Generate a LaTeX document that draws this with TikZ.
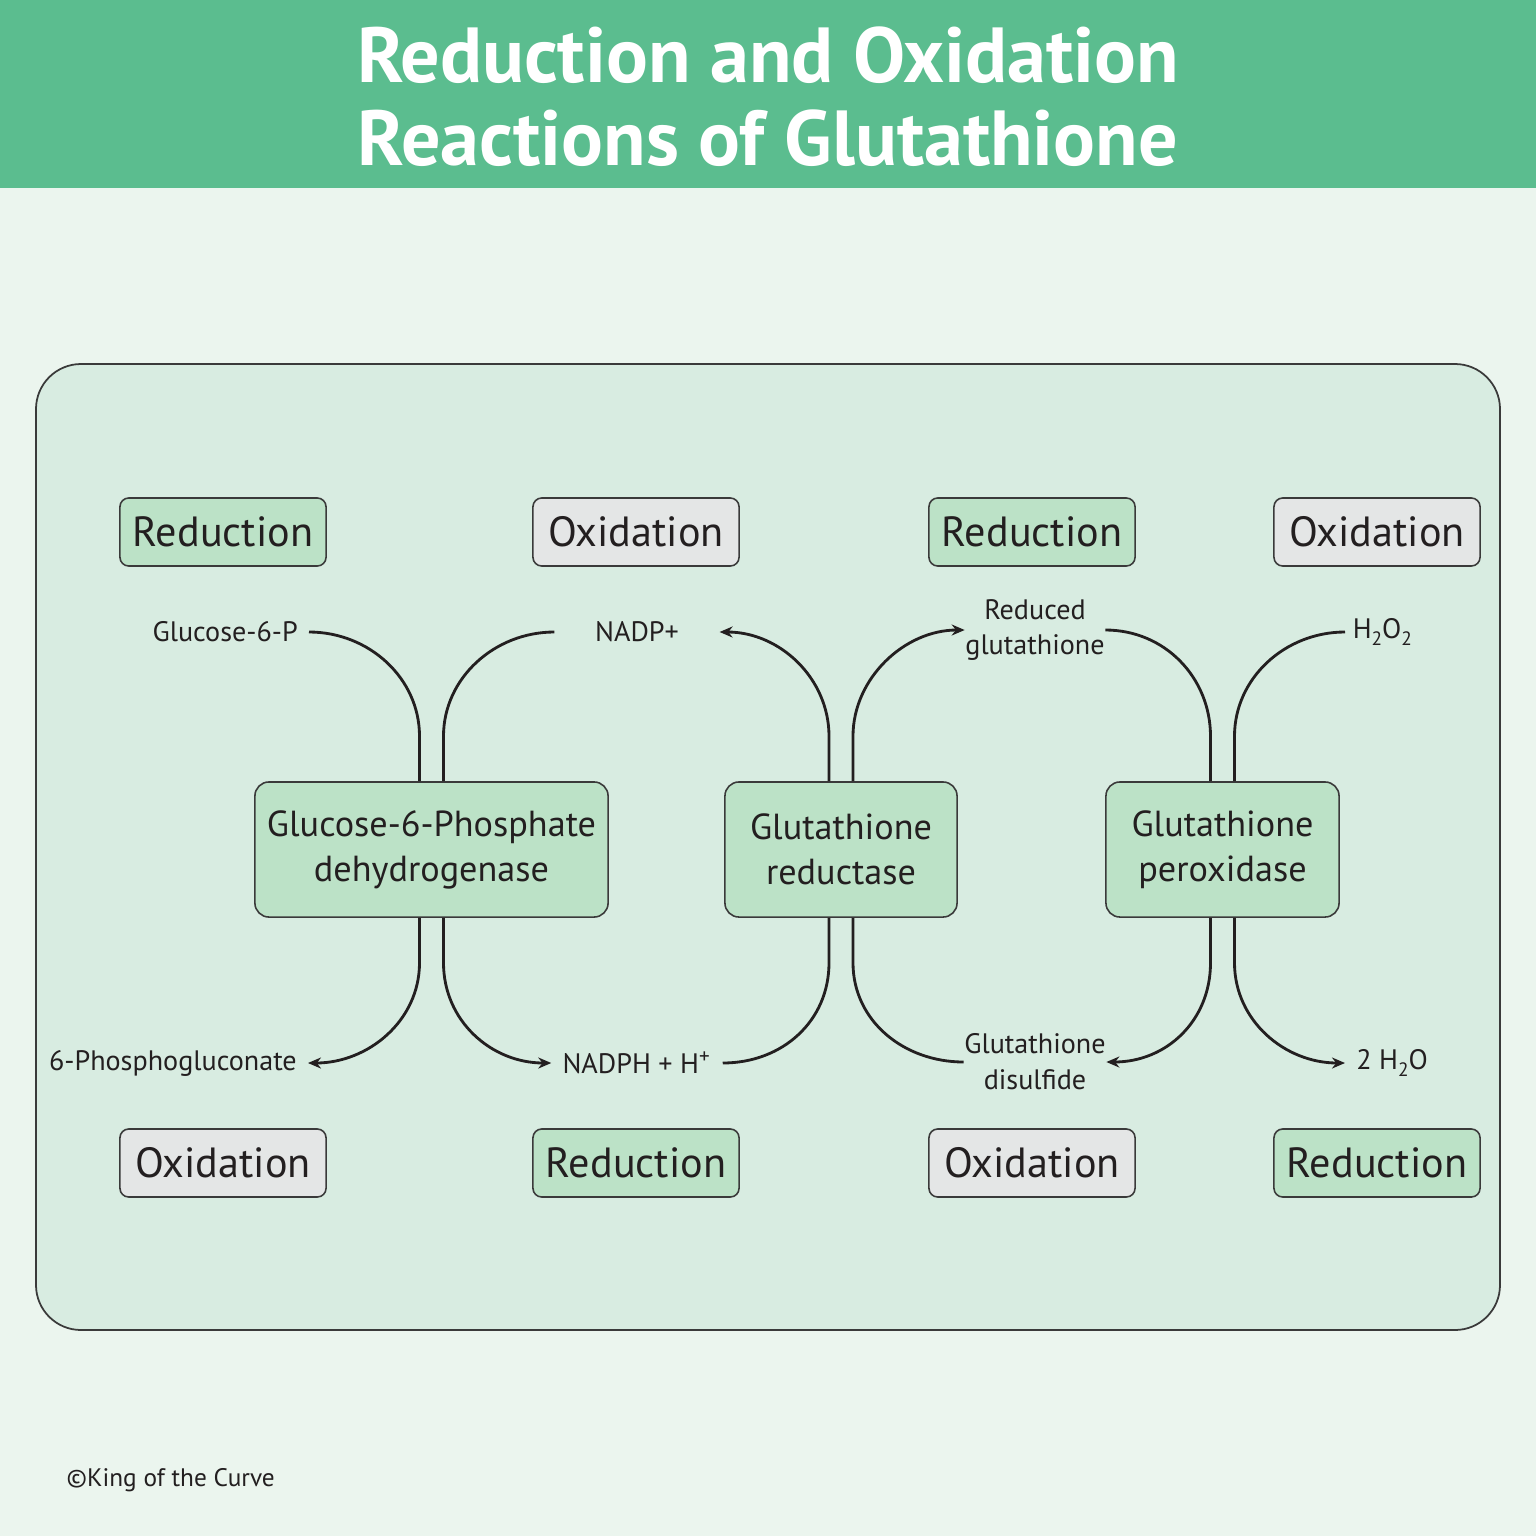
\documentclass[tikz,border=0pt]{standalone}
\usepackage{fontspec}
\setmainfont{PT Sans}
\usetikzlibrary{arrows.meta, positioning, calc}
\definecolor{cband}{HTML}{5BBD8F}
\definecolor{cpage}{HTML}{EBF5EE}
\definecolor{cpanel}{HTML}{D8ECE1}
\definecolor{cgreen}{HTML}{BCE2C7}
\definecolor{cgrey}{HTML}{E4E6E6}
\definecolor{cink}{HTML}{231F20}
\definecolor{cedge}{HTML}{3A3A3A}
\tikzset{
  every picture/.style={x=0.01cm, y=-0.01cm, text=cink},
  title/.style={text=white, align=center, font=\fontsize{22.2}{23.6}\selectfont\bfseries},
  panel/.style={draw=cedge, fill=cpanel, rounded corners=0.45cm, line width=0.5pt},
  tag/.style={draw=cedge, fill=#1, rounded corners=2.5pt, line width=0.45pt, minimum width=2.06cm, minimum height=0.68cm, inner sep=0pt, font=\fontsize{12}{14}\selectfont},
  tag/.default=cgreen,
  enzyme/.style={draw=cedge, fill=cgreen, rounded corners=4pt, line width=0.45pt, minimum height=1.35cm, align=center, font=\fontsize{10.3}{12.8}\selectfont},
  lbl/.style={align=center, inner xsep=3pt, inner ysep=0pt, font=\fontsize{8}{10.2}\selectfont},
  link/.style={draw=cink, line width=0.8pt},
  arrow/.style={link, -{Stealth[length=1.3mm, width=1.1mm]}},
}
\newcommand{\lowtwo}{\raisebox{-0.45ex}{\fontsize{5.5}{6}\selectfont 2}}

\begin{document}
\begin{tikzpicture}
  \useasboundingbox (0,0) rectangle (1536,1536);
  \fill[cpage] (0,0) rectangle (1536,1536);
  \fill[cband] (0,0) rectangle (1536,188);
  \node[title] (head) at (768,97) {Reduction and Oxidation\\Reactions of Glutathione};
  \draw[panel] (36,364) rectangle (1500,1330);
  \foreach \x/\t/\c [count=\i] in {223/Reduction/cgreen, 636/Oxidation/cgrey, 1032/Reduction/cgreen, 1377/Oxidation/cgrey}
    {\node[tag=\c] (top\i) at (\x,532) {\t};}
  \foreach \x/\t/\c [count=\i] in {223/Oxidation/cgrey, 636/Reduction/cgreen, 1032/Oxidation/cgrey, 1377/Reduction/cgreen}
    {\node[tag=\c] (bot\i) at (\x,1163) {\t};}
  \node[enzyme, minimum width=3.53cm] (g6pd) at (431.5,849.5) {Glucose-6-Phosphate\\dehydrogenase};
  \node[enzyme, minimum width=2.32cm] (gr) at (841,849.5) {Glutathione\\reductase};
  \node[enzyme, minimum width=2.33cm] (gpx) at (1222.5,849.5) {Glutathione\\peroxidase};
  \node[lbl, anchor=east] (glc) at (309,632) {Glucose-6-P};
  \node[lbl, inner xsep=0.4cm] (nadp) at (637,632) {NADP+};
  \node[lbl, inner xsep=0pt] (rgsh) at (1035,630) {Reduced\\glutathione};
  \node[lbl, anchor=west, inner xsep=2pt] (h2o2) at (1345,632) {H\lowtwo O\lowtwo};
  \node[lbl, anchor=east] (pg) at (308,1063) {6-Phosphogluconate};
  \node[lbl] (nadph) at (637,1063) {NADPH + H\textsuperscript{+}};
  \node[lbl, inner xsep=0pt] (gssg) at (1035,1062) {Glutathione\\disulfide};
  \node[lbl, anchor=west] (water) at (1345,1063) {2 H\lowtwo O};
  \node[lbl, anchor=west, inner xsep=0pt, font=\fontsize{7.2}{9}\selectfont] (copy) at (66,1480) {\textcopyright King of the Curve};
  \draw[link] ($(g6pd.north)+(-12,0)$) -- ++(0,-45) .. controls +(0,-58) and +(60,0) .. (glc.east);
  \draw[link] ($(g6pd.north)+(12,0)$) -- ++(0,-45) .. controls +(0,-58) and +(-60,0) .. (nadp.west);
  \draw[arrow] ($(gr.north)+(-12,0)$) -- ++(0,-45) .. controls +(0,-58) and +(60,0) .. (nadp.east);
  \draw[arrow] ($(gr.north)+(12,0)$) -- ++(0,-45) .. controls +(0,-58) and +(-60,0) .. (rgsh.west);
  \draw[link] ($(gpx.north)+(-12,0)$) -- ++(0,-45) .. controls +(0,-58) and +(60,0) .. (rgsh.east);
  \draw[link] ($(gpx.north)+(12,0)$) -- ++(0,-45) .. controls +(0,-58) and +(-60,0) .. (h2o2.west);
  \draw[arrow] ($(g6pd.south)+(-12,0)$) -- ++(0,45) .. controls +(0,58) and +(60,0) .. (pg.east);
  \draw[arrow] ($(g6pd.south)+(12,0)$) -- ++(0,45) .. controls +(0,58) and +(-60,0) .. (nadph.west);
  \draw[link] ($(gr.south)+(-12,0)$) -- ++(0,45) .. controls +(0,58) and +(60,0) .. (nadph.east);
  \draw[link] ($(gr.south)+(12,0)$) -- ++(0,45) .. controls +(0,58) and +(-60,0) .. (gssg.west);
  \draw[arrow] ($(gpx.south)+(-12,0)$) -- ++(0,45) .. controls +(0,58) and +(60,0) .. (gssg.east);
  \draw[arrow] ($(gpx.south)+(12,0)$) -- ++(0,45) .. controls +(0,58) and +(-60,0) .. (water.west);
\end{tikzpicture}
\end{document}
